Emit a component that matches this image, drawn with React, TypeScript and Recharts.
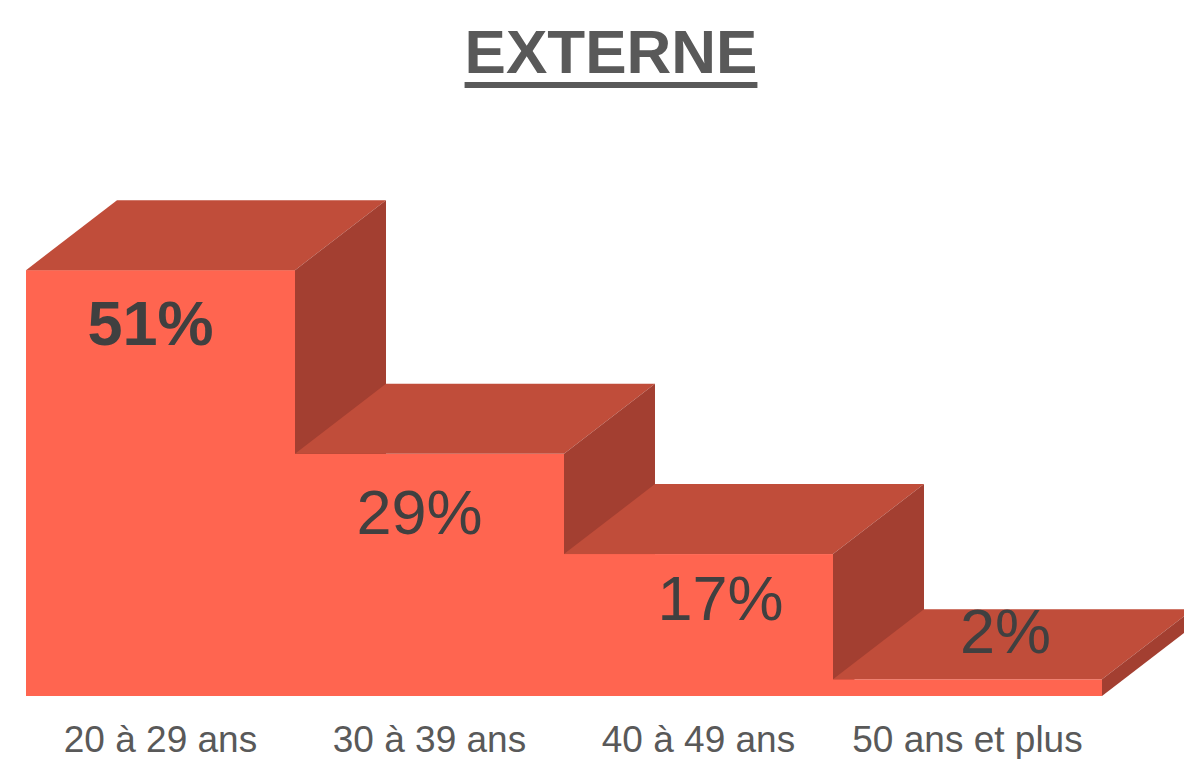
import React from 'react';
import { BarChart, Bar, XAxis, YAxis, LabelList } from 'recharts';

// Age groups and their share (%)
const AGE_GROUPS = ['20 à 29 ans', '30 à 39 ans', '40 à 49 ans', '50 ans et plus'];
const SHARES = [51, 29, 17, 2];

const chartData = AGE_GROUPS.map((group, i) => ({ group, share: SHARES[i] }));

const FRONT = '#FF6550';
const TOP = '#C04D3A';
const SIDE = '#A33F31';
const DEPTH_X = 91;
const DEPTH_Y = -70;
const FONT = '"Liberation Sans", Arial, sans-serif';

// 3D step: front face, top face, right side face
const StepShape = (props: any) => {
  const { x, y, width, height } = props;
  const w = width;
  const h = height;
  return (
    <g>
      <rect x={x} y={y} width={w} height={h} fill={FRONT} />
      <polygon
        points={`${x},${y} ${x + DEPTH_X},${y + DEPTH_Y} ${x + w + DEPTH_X},${y + DEPTH_Y} ${x + w},${y}`}
        fill={TOP}
      />
      <polygon
        points={`${x + w},${y} ${x + w + DEPTH_X},${y + DEPTH_Y} ${x + w + DEPTH_X},${y + h + DEPTH_Y} ${x + w},${y + h}`}
        fill={SIDE}
      />
    </g>
  );
};

// label placement relative to the bar's centre / top (as in the original)
const LABEL_OFFSETS = [
  { dx: -10, dy: 75 },
  { dx: -10, dy: 80 },
  { dx: 22, dy: 66 },
  { dx: 38, dy: -26 },
];

const ValueLabel = (props: any) => {
  const { x, y, width, value, index } = props;
  const off = LABEL_OFFSETS[index] || { dx: 0, dy: 0 };
  return (
    <text
      x={x + width / 2 + off.dx}
      y={y + off.dy}
      textAnchor="middle"
      fill="#404040"
      fontFamily={FONT}
      fontSize={63}
      fontWeight={index === 0 ? 'bold' : 'normal'}
    >
      {value}%
    </text>
  );
};

const AxisTick = (props: any) => {
  const { x, payload } = props;
  return (
    <text
      x={x}
      y={752}
      textAnchor="middle"
      fill="#595959"
      fontFamily={FONT}
      fontSize={37}
    >
      {payload.value}
    </text>
  );
};

export default function App() {
  return (
    <div style={{ position: 'absolute', left: 0, top: 0, width: 1184, height: 759, background: '#fff' }}>
      <div
        style={{
          position: 'absolute',
          left: 38,
          width: 1146,
          top: 0,
          textAlign: 'center',
          fontFamily: FONT,
          fontWeight: 'bold',
          fontSize: 62,
          lineHeight: '62px',
          paddingTop: 21,
          color: '#595959',
          textDecoration: 'underline',
          textDecorationThickness: '6px',
          textUnderlineOffset: '9px',
        }}
      >
        EXTERNE
      </div>
      <div style={{ position: 'absolute', left: 0, top: 0 }}>
        <BarChart
          width={1184}
          height={759}
          data={chartData}
          margin={{ top: 195, right: 82, bottom: 0, left: 26 }}
          barCategoryGap={0}
          barGap={0}
        >
          <XAxis
            dataKey="group"
            height={63}
            axisLine={false}
            tickLine={false}
            interval={0}
            tick={<AxisTick />}
          />
          <YAxis hide domain={[0, 60]} />
          <Bar dataKey="share" shape={<StepShape />} isAnimationActive={false}>
            <LabelList dataKey="share" content={<ValueLabel />} />
          </Bar>
        </BarChart>
      </div>
    </div>
  );
}
